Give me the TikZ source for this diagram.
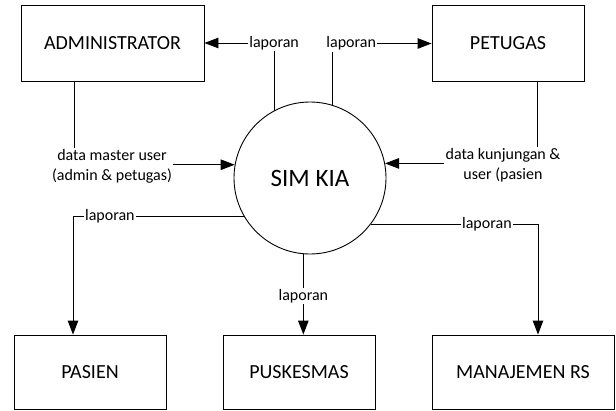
\documentclass[tikz,border=0pt]{standalone}
\usepackage{fontspec}
\setmainfont{Carlito}
\usetikzlibrary{arrows.meta}
\tikzset{
  entity/.style={draw, line width=0.9pt, minimum height=76pt, inner sep=0pt,
                 font=\fontsize{20}{24}\selectfont},
  process/.style={draw, circle, line width=0.9pt, minimum size=152pt, inner sep=0pt,
                  font=\fontsize{25}{30}\selectfont},
  flow/.style={line width=0.9pt, -{Triangle[length=14pt,width=10.5pt]}},
  lbl/.style={fill=white, inner sep=1.5pt, font=\fontsize{16}{20}\selectfont, align=center}
}
\begin{document}
\begin{tikzpicture}[x=1pt, y=-1pt]
  \useasboundingbox (0,0) rectangle (616,410);

  % external entities
  \node[entity, minimum width=183pt] (adm) at (112.5,43) {ADMINISTRATOR};
  \node[entity, minimum width=152pt] (pet) at (508,43.5) {PETUGAS};
  \node[entity, minimum width=152pt, minimum height=74pt] (pas) at (90,372) {PASIEN};
  \node[entity, minimum width=152pt, minimum height=74pt] (pus) at (299,372) {PUSKESMAS};
  \node[entity, minimum width=182pt, minimum height=74pt] (man) at (523,372) {MANAJEMEN RS};

  % central process
  \node[process] (sim) at (310,178) {SIM KIA};

  % reports going up
  \draw[flow] (sim.118.3) |- node[lbl, pos=0.5] (l1) {laporan} (adm.east);
  \draw[flow] (sim.73.2) |- node[lbl, pos=0.595] (l2) {laporan} (pet.west);

  % data coming in
  \draw[flow] ([xshift=-38.5pt]adm.south) |- (sim.170.9);
  \node[lbl] (d1) at (112,166) {data master user\\(admin \& petugas)};
  \draw[flow] ([xshift=29pt]pet.south) |- (sim.11.4);
  \node[lbl] (d2) at (503,165) {data kunjungan \&\\user (pasien};

  % reports going down
  \draw[flow] (sim.210) -| node[lbl, pos=0.392] (l3) {laporan} ([xshift=-17pt]pas.north);
  \draw[flow] (sim.265.5) -- node[lbl, pos=0.52] (l4) {laporan} (sim.265.5 |- pus.north);
  \draw[flow] (sim.323.7) -| node[lbl, pos=0.347] (l5) {laporan} ([xshift=15pt]man.north);
\end{tikzpicture}
\end{document}
